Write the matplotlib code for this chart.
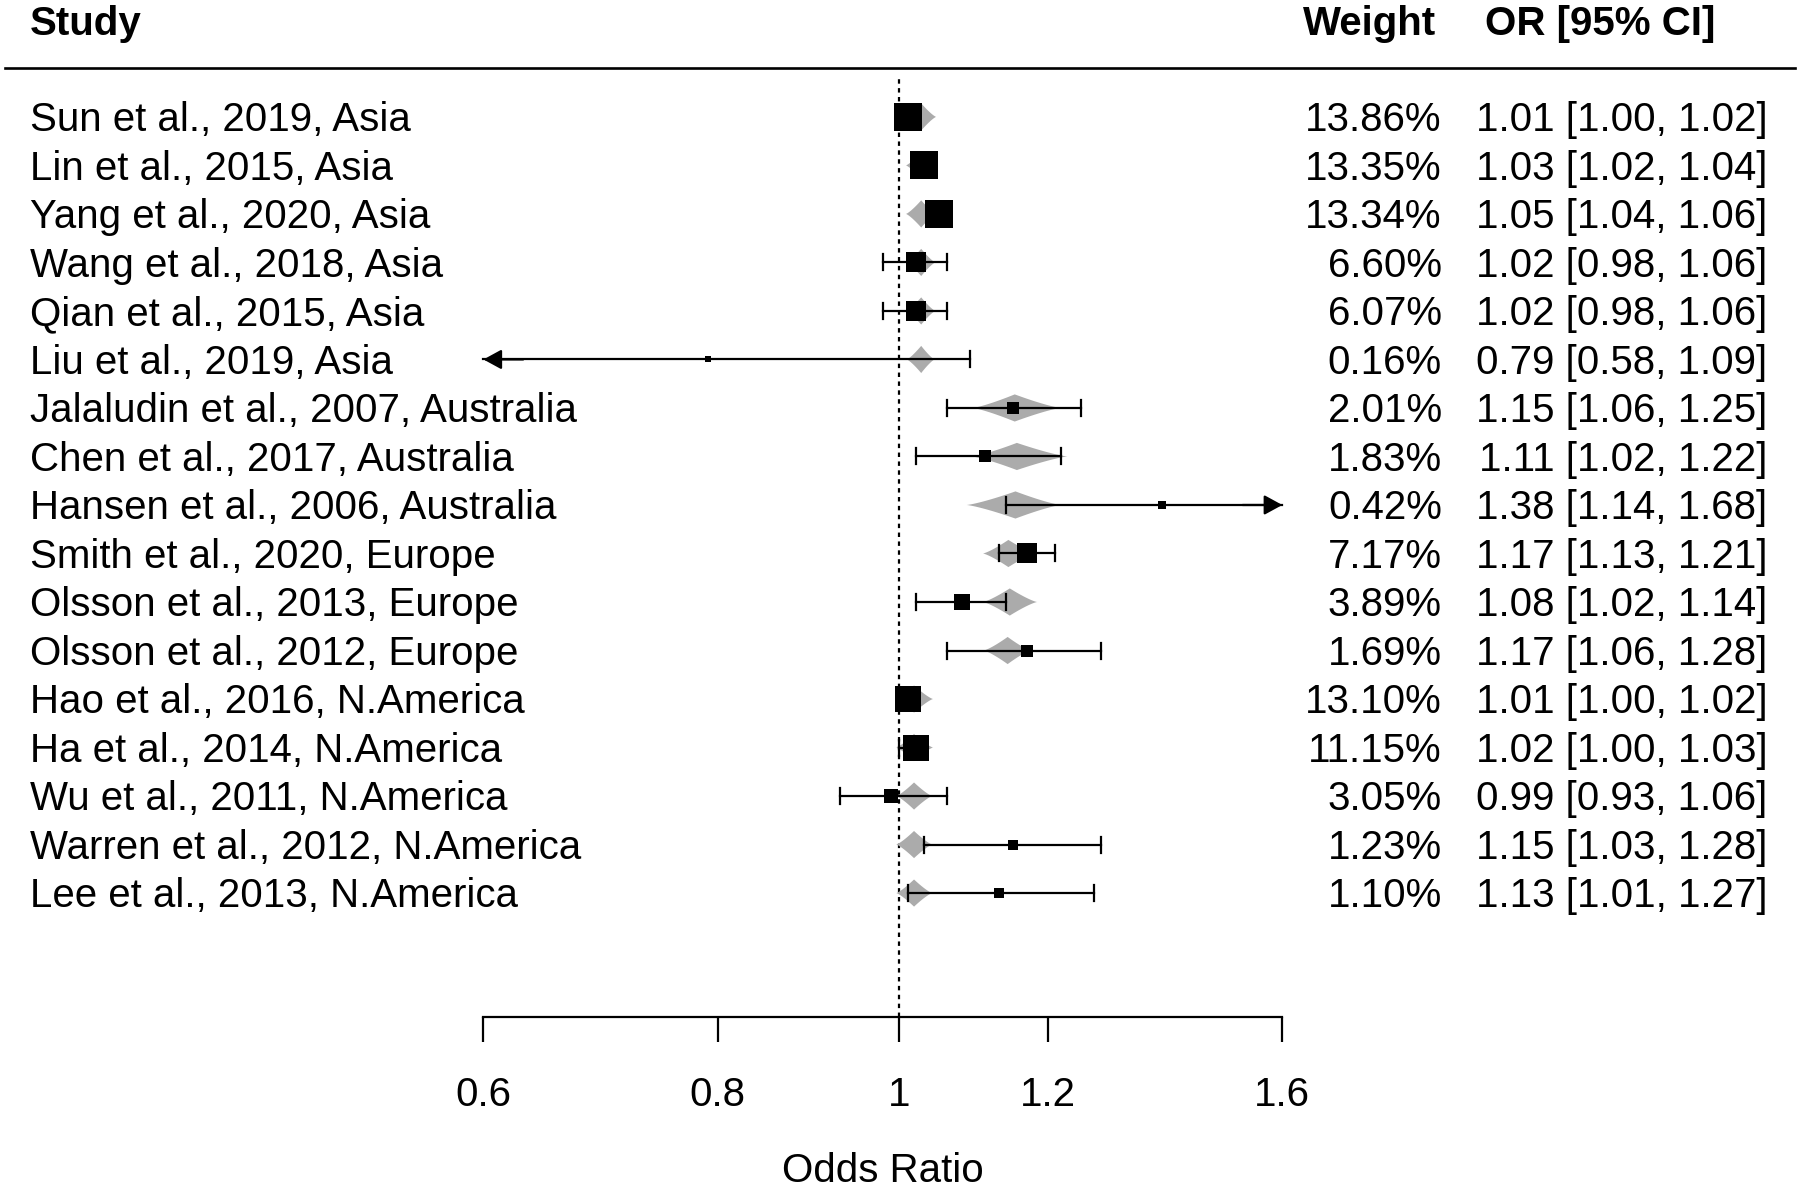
import numpy as np
import matplotlib
matplotlib.use("Agg")
import matplotlib.pyplot as plt
from matplotlib.ticker import NullLocator

plt.rcParams['font.family'] = ['Liberation Sans', 'DejaVu Sans']

studies = ["Sun et al., 2019, Asia", "Lin et al., 2015, Asia", "Yang et al., 2020, Asia",
           "Wang et al., 2018, Asia", "Qian et al., 2015, Asia", "Liu et al., 2019, Asia",
           "Jalaludin et al., 2007, Australia", "Chen et al., 2017, Australia",
           "Hansen et al., 2006, Australia", "Smith et al., 2020, Europe",
           "Olsson et al., 2013, Europe", "Olsson et al., 2012, Europe",
           "Hao et al., 2016, N.America", "Ha et al., 2014, N.America",
           "Wu et al., 2011, N.America", "Warren et al., 2012, N.America",
           "Lee et al., 2013, N.America"]
weights = [13.86, 13.35, 13.34, 6.60, 6.07, 0.16, 2.01, 1.83, 0.42, 7.17, 3.89, 1.69,
           13.10, 11.15, 3.05, 1.23, 1.10]
odds = [1.01, 1.03, 1.05, 1.02, 1.02, 0.79, 1.15, 1.11, 1.38, 1.17, 1.08, 1.17,
        1.01, 1.02, 0.99, 1.15, 1.13]
ci_lo = [1.00, 1.02, 1.04, 0.98, 0.98, 0.58, 1.06, 1.02, 1.14, 1.13, 1.02, 1.06,
         1.00, 1.00, 0.93, 1.03, 1.01]
ci_hi = [1.02, 1.04, 1.06, 1.06, 1.06, 1.09, 1.25, 1.22, 1.68, 1.21, 1.14, 1.28,
         1.02, 1.03, 1.06, 1.28, 1.27]
# shrunken (gray) estimates
pred = [1.027, 1.027, 1.027, 1.027, 1.027, 1.027, 1.152, 1.155, 1.153, 1.143, 1.145, 1.142,
        1.018, 1.018, 1.018, 1.018, 1.018]
pred_lo = [1.008, 1.008, 1.008, 1.008, 1.008, 1.009, 1.094, 1.093, 1.086, 1.108, 1.108, 1.109,
           0.996, 0.996, 0.996, 0.996, 0.996]
pred_hi = [1.046, 1.046, 1.046, 1.045, 1.045, 1.044, 1.219, 1.229, 1.219, 1.182, 1.184, 1.175,
           1.042, 1.042, 1.041, 1.041, 1.041]
ticks = [0.6, 0.8, 1, 1.2, 1.6]
tick_labels = ["0.6", "0.8", "1", "1.2", "1.6"]

alim = (ticks[0], ticks[-1])
n = len(studies)
rows = np.arange(n, 0, -1)
fs = 29
lw = 1.6

fig = plt.figure(figsize=(18, 11.88), dpi=100)
ax = fig.add_axes([0, 0, 1, 1])
ax.set_xscale('log')
ax.set_xlim(np.exp(-899.5 / 814.5), np.exp(900.5 / 814.5))
ax.set_ylim(-5.08, 19.41)

gray = '#ababab'
axis_y = -1.56

# reference line
ax.plot([1, 1], [axis_y, 17.87], color='black', lw=1.6, ls=(0, (2.0, 2.0)), zorder=1)

# gray shrunken estimates
for y, c, lo, hi in zip(rows, pred, pred_lo, pred_hi):
    lc, lh, ll = np.log(c), np.log(hi), np.log(lo)
    t = np.linspace(0, 1, 30)
    h = 0.28 * (1 - t) ** 1.25
    xs_r = np.exp(lc + t * (lh - lc))
    xs_l = np.exp(lc - t * (lc - ll))
    px = np.concatenate([xs_r, xs_r[::-1], xs_l, xs_l[::-1]])
    py = np.concatenate([y + h, y - h[::-1], y - h, y + h[::-1]])
    ax.fill(px, py, color=gray, lw=0, zorder=2)

cap = 0.165
arrow = dict(arrowstyle='-|>,head_length=0.55,head_width=0.3', color='black', lw=lw,
             mutation_scale=20, shrinkA=0, shrinkB=0)
for y, o, lo, hi, w in zip(rows, odds, ci_lo, ci_hi, weights):
    x0 = max(lo, alim[0])
    x1 = min(hi, alim[1])
    ax.plot([x0, x1], [y, y], color='black', lw=lw, zorder=3)
    if lo >= alim[0]:
        ax.plot([lo, lo], [y - cap, y + cap], color='black', lw=lw, zorder=3)
    else:
        ax.annotate('', xy=(alim[0], y), xytext=(alim[0] * 1.05, y), arrowprops=arrow, zorder=4)
    if hi <= alim[1]:
        ax.plot([hi, hi], [y - cap, y + cap], color='black', lw=lw, zorder=3)
    else:
        ax.annotate('', xy=(alim[1], y), xytext=(alim[1] / 1.05, y), arrowprops=arrow, zorder=4)
    side = (3 + 6.6 * np.sqrt(w)) * 0.72
    ax.plot(o, y, marker='s', ms=side, color='black', mew=0, ls='none', zorder=5)

tr = ax.get_yaxis_transform()
dy = -0.07
for y, s, w, o, lo, hi in zip(rows, studies, weights, odds, ci_lo, ci_hi):
    ax.text(0.0167, y + dy, s, transform=tr, ha='left', va='center', fontsize=fs)
    ax.text(0.801, y + dy, f"{w:.2f}%", transform=tr, ha='right', va='center', fontsize=fs)
    ax.text(0.982, y + dy, f"{o:.2f} [{lo:.2f}, {hi:.2f}]", transform=tr, ha='right',
            va='center', fontsize=fs)

hy = 18.92
ax.text(0.0167, hy, "Study", transform=tr, ha='left', va='center', fontsize=fs,
        fontweight='bold')
ax.text(0.798, hy, "Weight", transform=tr, ha='right', va='center', fontsize=fs,
        fontweight='bold')
ax.text(0.953, hy, "OR [95% CI]", transform=tr, ha='right', va='center', fontsize=fs,
        fontweight='bold')
ax.axhline(18.01, xmin=0.003, xmax=0.997, color='black', lw=1.9)

# x axis
for s in ['left', 'right', 'top']:
    ax.spines[s].set_visible(False)
ax.spines['bottom'].set_position(('data', axis_y))
ax.spines['bottom'].set_bounds(*alim)
ax.spines['bottom'].set_linewidth(lw)
ax.set_xticks(ticks)
ax.set_xticklabels(tick_labels)
ax.xaxis.set_minor_locator(NullLocator())
ax.tick_params(axis='x', direction='out', length=18, width=lw, pad=24, labelsize=fs)
ax.set_yticks([])
ax.text(np.exp(np.mean(np.log(alim))), -4.73, "Odds Ratio", ha='center', va='center',
        fontsize=fs)

fig.savefig("out.png", dpi=100)
